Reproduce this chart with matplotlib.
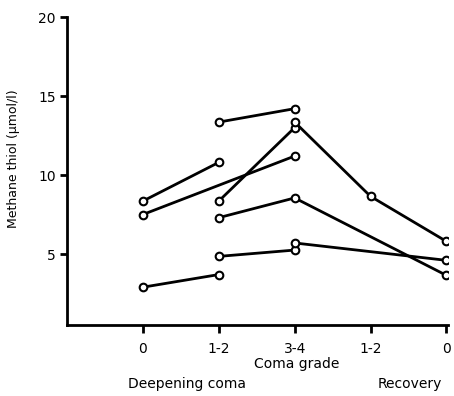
import numpy as np
import matplotlib
matplotlib.use("Agg")
import matplotlib.pyplot as plt

# coma grade positions: 0, 1-2, 3-4 (deepening), 1-2, 0 (recovery)
tick_labels = ["0", "1-2", "3-4", "1-2", "0"]

# each patient: (positions, methane thiol in umol/l)
series = [
    ([0, 1], [8.35, 10.8]),
    ([0, 2], [7.5, 11.2]),
    ([0, 1], [2.9, 3.7]),
    ([1, 2], [13.35, 14.2]),
    ([1, 2], [8.35, 13.0]),
    ([2, 3, 4], [13.35, 8.65, 5.8]),
    ([1, 2, 4], [7.3, 8.55, 3.65]),
    ([1, 2], [4.85, 5.25]),
    ([2, 4], [5.7, 4.6]),
]

fig = plt.figure(figsize=(4.54, 3.96), dpi=100)
ax = fig.add_axes([0.1476, 0.179, 0.839, 0.778])

for xs, ys in series:
    ax.plot(xs, ys, color="black", lw=2, marker="o", ms=5.5,
            mfc="white", mec="black", mew=1.5, zorder=3)

ax.set_xlim(-1, 4.02)
ax.set_ylim(0.5, 20)

for s in ["top", "right"]:
    ax.spines[s].set_visible(False)
for s in ["left", "bottom"]:
    ax.spines[s].set_linewidth(2)

ax.set_yticks([5, 10, 15, 20])
ax.set_xticks(range(5))
ax.set_xticklabels(tick_labels)
ax.tick_params(axis="y", direction="out", length=5, width=2, labelsize=10, pad=3)
ax.tick_params(axis="x", direction="out", length=6, width=2, labelsize=10, pad=6)

ax.set_ylabel("Methane thiol (\u03bcmol/l)", fontsize=9)
ax.yaxis.set_label_coords(-0.123, 0.54)

fig.text(297 / 454, 1 - 364 / 396, "Coma grade", ha="center", va="center", fontsize=10)
fig.text(187 / 454, 1 - 384 / 396, "Deepening coma", ha="center", va="center", fontsize=10)
fig.text(410 / 454, 1 - 384 / 396, "Recovery", ha="center", va="center", fontsize=10)

fig.savefig("out.png", dpi=100)
